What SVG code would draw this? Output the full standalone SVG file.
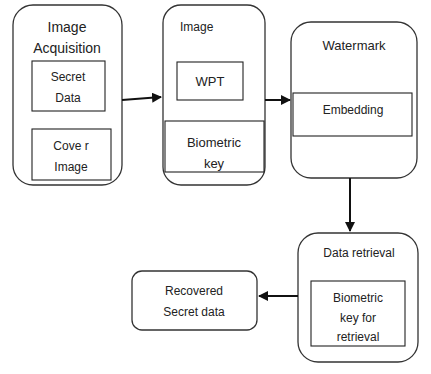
<svg xmlns="http://www.w3.org/2000/svg" width="431" height="374" viewBox="0 0 431 374">
<style>
.node{fill:#fff;stroke:#333;stroke-width:1.3}
.box{fill:#fff;stroke:#222;stroke-width:1.1}
text{font-family:"Liberation Sans",Arial,sans-serif;fill:#222;text-anchor:middle}
.conn{stroke:#111;stroke-width:2;fill:none;marker-end:url(#ah)}
</style>
<defs>
<marker id="ah" viewBox="0 0 10 10" refX="9" refY="5" markerWidth="5" markerHeight="5" orient="auto" markerUnits="strokeWidth">
<path d="M0,0 L10,5 L0,10 z" fill="#111"/>
</marker>
</defs>
<rect width="431" height="374" fill="#fff"/>
<g id="acquisition">
<rect class="node" x="13" y="5" width="109" height="180" rx="20"/>
<text x="67" y="32" font-size="14">Image</text>
<text x="67" y="53" font-size="14">Acquisition</text>
<rect class="box" x="32" y="61" width="73" height="50"/>
<text x="68" y="81" font-size="12">Secret</text>
<text x="68" y="102" font-size="12">Data</text>
<rect class="box" x="32" y="129" width="79" height="51"/>
<text x="71" y="150" font-size="12">Cove r</text>
<text x="71" y="171" font-size="12">Image</text>
</g>
<g id="image">
<rect class="node" x="163" y="5" width="102" height="180" rx="18"/>
<text x="180" y="31" font-size="12" style="text-anchor:start">Image</text>
<rect class="box" x="177" y="62" width="66" height="38"/>
<text x="210" y="86" font-size="13">WPT</text>
<rect class="box" x="165" y="121" width="99" height="51"/>
<text x="214" y="147" font-size="13">Biometric</text>
<text x="214" y="168" font-size="13">key</text>
</g>
<g id="watermark">
<rect class="node" x="291" y="22" width="126" height="156" rx="20"/>
<text x="354" y="50" font-size="13">Watermark</text>
<rect class="box" x="293" y="93" width="119" height="43"/>
<text x="353" y="114" font-size="12">Embedding</text>
</g>
<g id="retrieval">
<rect class="node" x="298" y="233" width="120" height="129" rx="20"/>
<text x="359" y="257" font-size="12">Data retrieval</text>
<rect class="box" x="311" y="281" width="94" height="65"/>
<text x="358" y="302" font-size="12">Biometric</text>
<text x="358" y="322" font-size="12">key for</text>
<text x="358" y="341" font-size="12">retrieval</text>
</g>
<g id="recovered">
<rect class="node" x="132" y="271" width="125" height="59" rx="10"/>
<text x="194" y="295" font-size="12">Recovered</text>
<text x="194" y="316" font-size="12">Secret data</text>
</g>
<g id="connectors">
<path class="conn" d="M122,100 L161,97"/>
<path class="conn" d="M265,100 L290,100"/>
<path class="conn" d="M350,178 L350,231"/>
<path class="conn" d="M298,296 L259,296"/>
</g>
</svg>
